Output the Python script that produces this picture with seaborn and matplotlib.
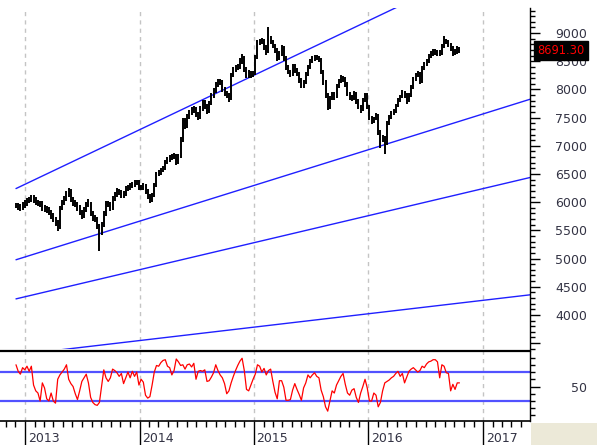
import matplotlib
matplotlib.use("Agg")
import matplotlib.pyplot as plt
import matplotlib.dates as mdates
from matplotlib.ticker import MultipleLocator
from matplotlib.patches import Rectangle
from matplotlib.transforms import ScaledTranslation
import numpy as np
import pandas as pd
import seaborn as sns

# weekly bars, first one in the week of 3 Dec 2012
first_week = "2012-12-03"

lows = [5890, 5870, 5850, 5860, 5900, 5940, 5980, 6000, 5990, 5950,
        5930, 5920, 5850, 5830, 5810, 5770, 5700, 5640, 5580, 5490,
        5520, 5860, 5950, 6020, 6100, 6000, 5940, 5920, 5850, 5780,
        5710, 5720, 5830, 5910, 5760, 5670, 5650, 5530, 5140, 5410,
        5560, 5760, 5910, 5840, 5860, 6030, 6090, 6130, 6080, 6080,
        6110, 6190, 6220, 6250, 6270, 6300, 6220, 6210, 6220, 6150,
        6060, 5980, 6000, 6100, 6270, 6460, 6490, 6530, 6580, 6670,
        6720, 6740, 6760, 6660, 6680, 6790, 7070, 7290, 7310, 7480,
        7550, 7590, 7510, 7450, 7470, 7620, 7650, 7570, 7590, 7720,
        7850, 7940, 8050, 8080, 7950, 7890, 7840, 7780, 7820, 8220,
        8310, 8340, 8370, 8460, 8310, 8200, 8210, 8210, 8220, 8250,
        8540, 8780, 8810, 8700, 8620, 8640, 8800, 8730, 8650, 8510,
        8530, 8600, 8510, 8350, 8270, 8220, 8240, 8300, 8230, 8120,
        8020, 8030, 8090, 8240, 8370, 8470, 8510, 8520, 8480, 8270,
        8080, 7850, 7640, 7660, 7820, 7810, 7840, 8020, 8120, 8140,
        8050, 7880, 7820, 7800, 7820, 7750, 7650, 7590, 7610, 7770,
        7650, 7450, 7380, 7400, 7450, 7200, 6970, 7070, 6860, 7020,
        7370, 7470, 7540, 7590, 7680, 7770, 7840, 7850, 7750, 7770,
        7870, 8010, 8150, 8220, 8100, 8120, 8340, 8410, 8470, 8560,
        8600, 8610, 8600, 8600, 8620, 8730, 8800, 8750, 8690, 8600,
        8610, 8630, 8640]

highs = [5990, 5990, 5970, 6000, 6040, 6080, 6100, 6130, 6120, 6090,
         6040, 6030, 6020, 5950, 5930, 5910, 5870, 5800, 5740, 5680,
         5940, 6040, 6110, 6200, 6260, 6230, 6090, 6040, 6010, 5950,
         5870, 5910, 6000, 6050, 6010, 5840, 5770, 5740, 5620, 5650,
         5850, 6020, 6030, 6000, 6110, 6180, 6250, 6240, 6220, 6200,
         6280, 6310, 6340, 6360, 6400, 6400, 6390, 6310, 6340, 6330,
         6240, 6150, 6170, 6340, 6540, 6570, 6600, 6650, 6740, 6810,
         6830, 6850, 6870, 6860, 6860, 7150, 7500, 7490, 7560, 7640,
         7690, 7700, 7690, 7600, 7700, 7810, 7810, 7740, 7790, 7930,
         8030, 8130, 8190, 8180, 8160, 8040, 7980, 7930, 8300, 8400,
         8430, 8450, 8550, 8630, 8600, 8390, 8340, 8330, 8320, 8620,
         8870, 8900, 8920, 8900, 8790, 9100, 8950, 8880, 8810, 8730,
         8690, 8780, 8770, 8590, 8430, 8350, 8460, 8450, 8380, 8310,
         8200, 8160, 8310, 8440, 8540, 8590, 8610, 8620, 8600, 8560,
         8350, 8160, 7930, 7890, 7960, 7950, 8090, 8190, 8250, 8240,
         8220, 8130, 7960, 7900, 7970, 7960, 7830, 7730, 7840, 7940,
         7930, 7730, 7530, 7520, 7580, 7570, 7280, 7190, 7170, 7440,
         7540, 7610, 7660, 7750, 7840, 7910, 7990, 7980, 7930, 7940,
         8080, 8220, 8290, 8320, 8310, 8410, 8480, 8540, 8630, 8690,
         8710, 8710, 8700, 8700, 8800, 8950, 8900, 8880, 8830, 8770,
         8720, 8770, 8760]

rsi = [80, 71, 67, 76, 73, 78, 71, 78, 52, 44,
       41, 30, 55, 48, 33, 30, 41, 30, 27, 60,
       66, 70, 74, 80, 60, 54, 50, 40, 32, 44,
       57, 62, 67, 55, 35, 28, 25, 24, 28, 50,
       73, 62, 57, 62, 74, 72, 69, 64, 68, 54,
       62, 70, 62, 71, 64, 70, 52, 60, 56, 38,
       34, 36, 52, 70, 79, 78, 83, 86, 87, 78,
       76, 66, 72, 88, 84, 79, 80, 74, 80, 81,
       77, 82, 60, 71, 72, 71, 73, 57, 58, 63,
       69, 80, 72, 66, 62, 54, 40, 44, 55, 64,
       72, 79, 85, 89, 72, 46, 44, 52, 60, 67,
       80, 78, 70, 75, 66, 72, 74, 57, 42, 33,
       58, 58, 49, 31, 31, 32, 45, 54, 46, 39,
       31, 48, 55, 66, 62, 66, 69, 64, 62, 45,
       36, 22, 16, 30, 44, 41, 52, 58, 64, 68,
       53, 41, 38, 45, 47, 35, 28, 41, 50, 60,
       48, 30, 30, 41, 38, 22, 28, 44, 55, 57,
       59, 62, 64, 68, 71, 64, 68, 55, 63, 71,
       74, 76, 73, 70, 72, 78, 76, 81, 84, 85,
       87, 87, 84, 62, 80, 78, 69, 68, 44, 53,
       46, 55, 55]

last_price = 8691.30

# trend channel lines: value at the first week and at the right edge
trend_dates = ["2012-12-03", "2017-05-30"]
trend_upper = [6242, 10583]
trend_mid = [4979, 7826]
trend_low = [4285, 6438]
trend_base = [3289, 4357]

price_ticks = [3500, 4000, 4500, 5000, 5500, 6000, 6500, 7000, 7500, 8000, 8500, 9000]
price_labels = ["", "4000", "4500", "5000", "5500", "6000", "6500", "7000", "7500", "8000", "8500", "9000"]
rsi_bands = [70, 30]
years = [2013, 2014, 2015, 2016, 2017]

sns.set_theme(style="white")
plt.rcParams["font.family"] = ["DejaVu Sans"]

weeks = pd.date_range(first_week, periods=len(rsi), freq="7D")
df = pd.DataFrame({"week": weeks, "low": lows, "high": highs, "rsi": rsi})
tdates = pd.to_datetime(trend_dates)
year_starts = [pd.Timestamp(f"{y}-01-01") for y in years]

W, H = 597, 445
fig = plt.figure(figsize=(W / 100, H / 100), dpi=100)
ax = fig.add_axes([0, 1 - 349 / H, 530 / W, (349 - 8) / H])
ax2 = fig.add_axes([0, 1 - 421 / H, 530 / W, (421 - 351) / H])

xmin, xmax = pd.Timestamp("2012-10-13"), pd.Timestamp("2017-05-30")
label_col = "#333344"

# ---- price panel
for d in year_starts:
    ax.axvline(d, color="#c4c4c4", lw=1, ls=(0, (3, 3)), zorder=0)
ax.vlines(df["week"], df["low"], df["high"], color="black", lw=1.4, zorder=3)
for vals in [trend_upper, trend_mid, trend_low, trend_base]:
    sns.lineplot(x=tdates, y=vals, ax=ax, color="#1f1fff", lw=1.0, zorder=2)

ax.set_xlim(xmin, xmax)
ax.set_ylim(3396, 9445)
ax.set_xlabel("")
ax.set_ylabel("")
ax.yaxis.tick_right()
ax.set_yticks(price_ticks)
ax.set_yticklabels(price_labels)
ax.yaxis.set_minor_locator(MultipleLocator(100))
ax.tick_params(axis="y", which="major", direction="out", length=7.2, width=1,
               color="black", pad=33.8, labelsize=9, labelcolor=label_col, right=True)
ax.tick_params(axis="y", which="minor", direction="out", length=3.6, width=1,
               color="black", right=True)
for lab in ax.get_yticklabels():
    lab.set_horizontalalignment("right")
ax.tick_params(axis="x", which="both", bottom=False, labelbottom=False)
for s in ["left", "top", "bottom"]:
    ax.spines[s].set_visible(False)
ax.spines["right"].set_color("black")
ax.spines["right"].set_linewidth(1.0)

ax.annotate(f"{last_price:.2f}", xy=(1.0, last_price), xycoords=ax.get_yaxis_transform(),
            xytext=(5.4, 0), textcoords="offset points", ha="left", va="center",
            fontsize=8.3, color="#ff0000", annotation_clip=False,
            bbox=dict(boxstyle="square,pad=0.28", fc="black", ec="black"))

# ---- RSI panel
for d in year_starts:
    ax2.axvline(d, color="#c4c4c4", lw=1, ls=(0, (3, 3)), zorder=0)
for b in rsi_bands:
    ax2.axhline(b, color="#5252ff", lw=1.6, zorder=1)
sns.lineplot(data=df, x="week", y="rsi", ax=ax2, color="#ff0000", lw=0.9, zorder=3)

ax2.set_xlim(xmin, xmax)
ax2.set_ylim(2.4, 99)
ax2.set_xlabel("")
ax2.set_ylabel("")
ax2.yaxis.tick_right()
ax2.set_yticks([50])
ax2.yaxis.set_minor_locator(MultipleLocator(10))
ax2.tick_params(axis="y", which="major", direction="out", length=7.2, width=1,
                color="black", pad=33.8, labelsize=9, labelcolor=label_col, right=True)
ax2.tick_params(axis="y", which="minor", direction="out", length=3.6, width=1,
                color="black", right=True)
for lab in ax2.get_yticklabels():
    lab.set_horizontalalignment("right")

ax2.set_xticks(year_starts)
ax2.set_xticklabels([str(y) for y in years])
ax2.xaxis.set_minor_locator(mdates.MonthLocator(bymonth=range(2, 13)))
ax2.tick_params(axis="x", which="major", direction="out", length=17.3, width=1,
                color="black", pad=-9.6, labelsize=9, labelcolor=label_col, bottom=True)
ax2.tick_params(axis="x", which="minor", direction="out", length=4.3, width=1,
                color="black", bottom=True)
shift = ScaledTranslation(2.6 / 100, 0, fig.dpi_scale_trans)
for lab in ax2.get_xticklabels():
    lab.set_horizontalalignment("left")
    lab.set_transform(lab.get_transform() + shift)
ax2.spines["left"].set_visible(False)
for s in ["top", "bottom", "right"]:
    ax2.spines[s].set_color("black")
ax2.spines["top"].set_linewidth(1.6)
ax2.spines["bottom"].set_linewidth(1.2)
ax2.spines["right"].set_linewidth(1.0)

# beige status box in the lower right corner
fig.add_artist(Rectangle((531 / W, 0), (W - 531) / W, 22 / H, transform=fig.transFigure,
                         fc="#ece9d8", ec="none", zorder=0))

fig.savefig("out.png", dpi=100)
